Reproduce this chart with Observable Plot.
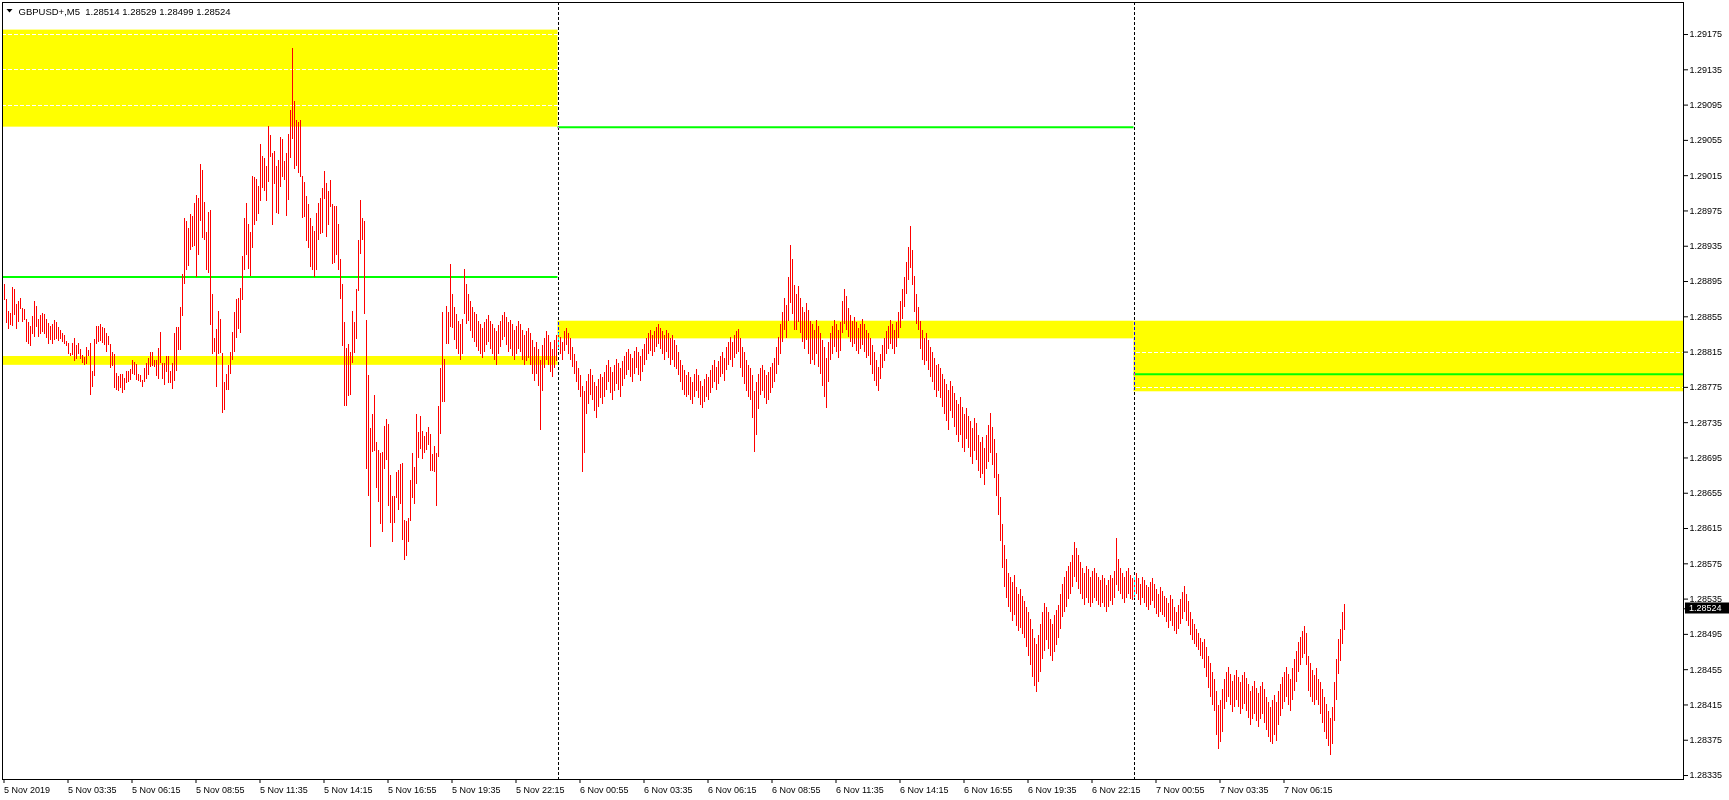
<!DOCTYPE html>
<html><head><meta charset="utf-8">
<script src="https://cdn.jsdelivr.net/npm/d3@7"></script>
<script src="https://cdn.jsdelivr.net/npm/@observablehq/plot@0.6"></script>
<style>
html,body{margin:0;padding:0;background:#fff;}
#chart{width:1729px;height:800px;}
</style></head><body><div id="chart"></div>
<script>
const symbolName = "GBPUSD+,M5";
const lastOHLC = [1.28514, 1.28529, 1.28499, 1.28524];
const PRICE_BASE = 1.28, POINT = 0.00001; // bar values below are in points above 1.28000
// one value per M5 bar, starting 5 Nov 2019 00:55
const barHigh = [
892,875,861,859,888,886,869,872,876,864,863,852,849,844,855,872,867,852,857,859,
858,852,847,844,846,851,849,843,840,836,834,827,825,813,825,830,823,825,818,811,
809,820,817,825,793,829,844,844,846,843,842,836,833,824,815,812,
791,787,790,790,785,793,793,795,805,803,801,790,788,783,796,802,808,815,814,805,
805,819,837,802,802,810,810,793,802,836,843,843,866,903,966,963,955,971,969,984,
993,989,1028,1021,985,951,973,976,880,830,841,861,852,813,781,790,
800,815,837,860,875,
876,887,923,966,984,960,951,1014,1013,1011,1003,1050,1037,1034,1025,1071,1060,1040,1042,1025,
1032,1058,1056,1031,1040,1062,1089,1159,1099,1077,1075,1078,1014,1007,991,982,966,957,952,972,
984,989,1000,1020,1006,997,1009,982,980,980,960,
920,892,848,819,824,815,861,848,886,942,987,966,963,851,789,728,744,766,713,703,
700,701,731,739,733,675,651,651,678,681,688,689,624,623,626,669,700,684,744,724,
742,725,719,724,729,722,699,708,700,753,796,860,807,867,860,914,
880,866,858,850,846,852,909,892,880,872,866,860,858,850,846,842,848,
852,857,850,846,842,838,845,850,856,860,854,848,851,846,840,844,850,846,840,834,838,842,
836,828,820,826,818,806,822,830,838,834,826,818,828,834,
836,832,826,838,842,836,830,820,812,804,796,788,776,770,
782,790,795,788,780,776,784,790,786,792,800,806,798,792,800,807,802,796,804,810,
814,818,812,808,816,820,814,810,818,824,830,836,840,834,838,843,846,842,
838,834,840,836,830,834,828,822,814,806,800,794,788,
792,786,780,790,795,788,782,776,784,790,786,794,800,806,798,804,810,814,808,
820,826,832,826,834,838,841,830,820,814,806,800,796,788,770,780,790,
796,800,794,788,792,798,802,808,820,832,846,860,876,868,900,936,920,890,
880,889,876,866,860,870,862,850,846,840,851,844,836,828,820,808,826,
836,844,851,846,840,848,872,886,878,864,857,850,854,848,842,846,852,846,840,836,
830,822,814,806,798,812,822,830,838,844,851,846,840,848,
860,872,886,900,916,934,957,930,901,880,866,
850,839,830,836,828,820,814,808,800,801,796,790,784,778,772,
782,776,768,760,756,764,752,744,751,742,736,728,740,734,720,712,718,706,
720,732,745,730,716,700,676,650,620,596,580,564,
560,554,562,548,540,546,538,532,526,520,512,500,490,484,494,506,520,530,
526,520,512,506,516,522,528,540,552,560,566,572,576,584,599,592,584,
576,570,564,572,568,560,566,570,564,560,556,562,558,550,556,562,558,566,
604,580,570,564,560,566,570,562,558,
560,564,558,552,560,556,550,548,554,558,552,546,540,548,544,538,
536,530,539,534,526,520,528,534,542,549,540,532,520,512,506,500,496,490,486,
489,480,470,462,452,444,430,414,420,432,
444,452,458,450,442,448,454,446,440,448,452,445,438,430,436,442,434,428,436,440,432,
424,418,412,420,426,418,430,438,446,452,458,450,444,
456,466,476,486,492,498,504,496,470,462,454,448,456,444,
440,432,424,416,408,400,412,440,466,489,500,520,529
];
const barLow = [
873,847,841,845,844,857,841,848,863,848,851,826,824,821,835,832,843,832,835,837,
835,830,824,828,824,828,829,827,829,826,824,821,812,810,811,804,807,812,807,802,
800,801,810,766,775,787,824,826,827,825,822,814,823,796,799,774,
772,770,774,768,771,779,781,783,790,789,783,782,781,775,780,784,788,798,799,798,
787,784,802,784,777,792,779,779,773,782,793,817,817,855,892,907,912,930,934,935,
899,924,963,944,942,907,904,845,812,815,775,812,813,745,749,771,
772,790,805,815,830,
841,836,874,907,924,909,901,932,958,963,971,986,1000,997,986,1007,1036,958,1005,972,
971,1002,1013,1010,969,987,1034,1056,1022,1025,1017,1013,966,968,940,933,911,907,899,908,
942,948,950,988,945,958,979,914,915,925,908,
875,821,753,753,765,766,802,813,829,884,926,941,858,682,651,594,701,702,660,645,
620,611,682,692,640,621,599,621,649,635,642,601,579,583,599,623,649,642,665,694,
705,693,700,703,709,680,680,678,640,696,722,758,758,824,824,843,
842,828,818,812,805,812,858,846,850,838,830,826,820,816,812,808,815,
822,826,818,812,805,800,812,820,828,832,822,815,818,810,806,812,818,814,806,800,804,808,
800,790,782,790,776,726,770,796,806,800,792,786,796,804,
818,812,806,816,822,812,806,798,790,780,772,764,679,700,
744,756,766,760,748,740,752,762,756,764,772,780,768,760,770,778,772,764,776,784,
788,794,786,780,790,796,788,782,792,800,806,812,816,810,814,820,824,818,
812,806,814,808,800,806,798,795,788,780,772,766,764,
766,760,756,764,770,762,754,751,758,764,760,768,774,780,772,778,786,790,782,
794,800,806,798,808,812,814,796,786,778,770,764,760,740,701,720,750,
766,770,762,756,760,768,774,780,790,800,812,826,840,830,850,870,858,839,
840,848,836,826,818,828,812,801,806,800,812,798,790,776,764,751,780,
806,812,820,814,808,816,836,846,840,832,826,820,824,816,812,818,822,814,808,810,
800,790,782,776,770,784,796,804,812,818,824,818,812,820,
830,842,852,866,880,896,910,890,860,846,839,
818,806,800,804,794,786,780,772,764,770,762,752,744,736,726,
748,740,730,720,712,720,706,701,716,706,696,688,702,692,680,672,676,664,
682,690,700,686,672,651,630,600,570,548,536,526,
520,510,516,504,498,502,495,490,480,470,460,446,436,429,440,452,466,476,
488,478,470,464,474,482,490,500,514,520,526,534,540,548,560,554,546,
540,534,528,536,530,526,530,536,532,528,526,530,526,520,526,532,528,536,
550,544,540,534,530,536,540,534,533,
536,540,533,528,536,530,526,522,528,532,524,518,514,520,516,514,
508,502,510,504,498,495,500,506,512,520,510,504,494,488,484,480,477,470,466,
456,446,434,424,414,408,380,364,372,384,
410,418,424,414,406,412,420,412,404,410,416,408,400,392,398,404,396,389,398,404,394,
386,378,372,370,380,374,392,402,410,418,424,414,408,
420,430,440,452,460,468,472,460,430,424,418,414,420,414,
404,394,384,376,368,358,370,396,420,450,464,484,499
];
const yTicks = [1.28335,1.28375,1.28415,1.28455,1.28495,1.28535,1.28575,1.28615,1.28655,1.28695,1.28735,
  1.28775,1.28815,1.28855,1.28895,1.28935,1.28975,1.29015,1.29055,1.29095,1.29135,1.29175];
const xTickBars = [0,32,64,96,128,160,192,224,256,288,320,352,384,416,448,480,512,544,576,608,640];
const xTickLabels = ["5 Nov 2019","5 Nov 03:35","5 Nov 06:15","5 Nov 08:55","5 Nov 11:35","5 Nov 14:15",
  "5 Nov 16:55","5 Nov 19:35","5 Nov 22:15","6 Nov 00:55","6 Nov 03:35","6 Nov 06:15","6 Nov 08:55",
  "6 Nov 11:35","6 Nov 14:15","6 Nov 16:55","6 Nov 19:35","6 Nov 22:15","7 Nov 00:55","7 Nov 03:35","7 Nov 06:15"];
const daySeparators = [277, 565];           // bars 6 Nov 00:00 and 7 Nov 00:00
const zoneFrom = [-10, 277, 565, -10];
const zoneTo   = [277, 565, 2000, 277];
const zoneLow  = [1.29070, 1.28830, 1.28770, 1.28800];
const zoneHigh = [1.29180, 1.28850, 1.28850, 1.28810];
const levelPrice = [1.28900, 1.29070, 1.28790];
const levelFrom  = [-10, 277, 565];
const levelTo    = [277, 565, 2000];

const xDomain = [-0.75, 839.75];
const yDomain = [1.283305, 1.292113];
const clampX = v => Math.max(xDomain[0], Math.min(xDomain[1], v));
const bars = barHigh.map((h, i) => ({i, high: PRICE_BASE + h * POINT, low: PRICE_BASE + barLow[i] * POINT}));
const zones = zoneLow.map((lo, k) => ({x1: clampX(zoneFrom[k]), x2: clampX(zoneTo[k]), y1: lo, y2: zoneHigh[k]}));
const levels = levelPrice.map((p, k) => ({x1: clampX(levelFrom[k]), x2: clampX(levelTo[k]), y: p}));
const lastClose = lastOHLC[3];
const header = symbolName + "\u00a0 " + lastOHLC.map(v => v.toFixed(5)).join(" ");
const font = "'Liberation Sans', Arial, sans-serif";

const chart = Plot.plot({
  width: 1729, height: 800,
  marginTop: 2, marginRight: 46, marginBottom: 21, marginLeft: 2,
  x: {domain: xDomain, axis: null},
  y: {domain: yDomain, axis: null},
  style: {background: "#fff", fontFamily: font, fontSize: "9px", color: "#000"},
  marks: [
    Plot.frame({fill: "#fff"}),
    Plot.rect(zones, {x1: "x1", x2: "x2", y1: "y1", y2: "y2", fill: "#ffff00"}),
    Plot.ruleY(yTicks, {stroke: "#fff", strokeDasharray: "4,2", strokeWidth: 1, shapeRendering: "crispEdges"}),
    Plot.ruleY(levels, {x1: "x1", x2: "x2", y: "y", stroke: "#00ff00", strokeWidth: 2}),
    Plot.ruleX(bars, {x: "i", y1: "low", y2: "high", stroke: "#ff0000", strokeWidth: 1, shapeRendering: "crispEdges"}),
    Plot.ruleX(daySeparators, {stroke: "#fff", strokeDasharray: "3,2", mixBlendMode: "difference", shapeRendering: "crispEdges"}),
    Plot.frame({stroke: "#000", shapeRendering: "crispEdges"}),
    Plot.axisY(yTicks, {anchor: "right", tickSize: 4, tickPadding: 2, label: null, fontSize: 9,
      tickFormat: d => d.toFixed(5)}),
    Plot.axisY([lastClose], {anchor: "right", tickSize: 4, label: null, tickFormat: () => ""}),
    Plot.axisX(xTickBars, {anchor: "bottom", tickSize: 4, tickPadding: 3, label: null, fontSize: 9,
      textAnchor: "start", tickFormat: d => xTickLabels[xTickBars.indexOf(d)]}),
    Plot.text([header], {frameAnchor: "top-left", dx: 16, dy: 9, textAnchor: "start", lineAnchor: "middle",
      fontSize: 9.5, fill: "#000"})
  ]
});
document.getElementById("chart").appendChild(chart);

// current price tag on the price axis, placed with the plot's own y scale
const svg = d3.select(chart);
const yc = chart.scale("y").apply(lastClose);
const axisX0 = 1729 - 46 + 2;
svg.append("rect").attr("x", axisX0).attr("y", Math.round(yc) - 5.5).attr("width", 1729 - axisX0).attr("height", 11).attr("fill", "#000");
svg.append("text").attr("x", axisX0 + 4).attr("y", yc).attr("dy", "0.35em").attr("fill", "#fff")
  .attr("text-anchor", "start").attr("font-family", font).attr("font-size", 9).text(lastClose.toFixed(5));
// collapse-arrow of the chart header
svg.append("path").attr("d", "M6.5,9H12.5L9.5,12.5Z").attr("fill", "#000");
</script></body></html>
